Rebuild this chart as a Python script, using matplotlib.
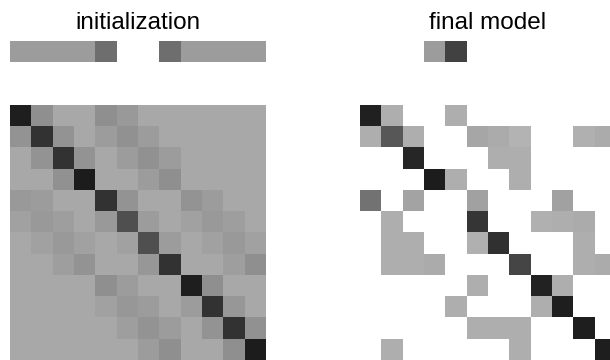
import numpy as np
import matplotlib
matplotlib.use('Agg')
import matplotlib.pyplot as plt

_ = np.nan  # no connection -> drawn white

panel_titles = ['initialization', 'final model']

# 1x12 vectors and 12x12 weight matrices (darker = larger weight)
init_vec = [0.39, 0.39, 0.39, 0.39, 0.57, _, _, 0.57, 0.39, 0.39, 0.39, 0.39]
final_vec = [_, _, _, 0.39, 0.74, _, _, _, _, _, _, _]

L = 0.34
init_mat = [
    [0.88, 0.44, L, L, 0.44, 0.40, L, L, L, L, L, L],
    [0.42, 0.80, 0.42, L, 0.39, 0.43, 0.39, L, L, L, L, L],
    [L, 0.42, 0.80, 0.42, L, 0.39, 0.43, 0.39, L, L, L, L],
    [L, L, 0.43, 0.89, L, L, 0.39, 0.44, L, L, L, L],
    [0.40, 0.39, L, L, 0.80, 0.42, L, L, 0.42, 0.39, L, L],
    [0.37, 0.40, 0.38, L, 0.40, 0.69, 0.39, L, 0.37, 0.40, 0.38, L],
    [L, 0.37, 0.40, 0.37, L, 0.37, 0.69, 0.39, L, 0.37, 0.40, 0.37],
    [L, L, 0.38, 0.42, L, L, 0.41, 0.80, L, L, 0.38, 0.44],
    [L, L, L, L, 0.44, 0.39, L, L, 0.88, 0.44, L, L],
    [L, L, L, L, 0.37, 0.41, 0.39, L, 0.39, 0.80, 0.41, L],
    [L, L, L, L, L, 0.38, 0.42, 0.39, L, 0.42, 0.80, 0.43],
    [L, L, L, L, L, L, 0.39, 0.44, L, L, 0.44, 0.89],
]

G = 0.32
final_mat = [
    [0.87, G, _, _, G, _, _, _, _, _, _, _],
    [G, 0.66, G, _, _, 0.35, 0.33, 0.30, _, _, 0.31, 0.33],
    [_, _, 0.85, _, _, _, G, G, _, _, _, _],
    [_, _, _, 0.89, G, _, _, G, _, _, _, _],
    [0.55, _, 0.36, _, _, 0.37, _, _, _, 0.37, _, _],
    [_, G, _, _, _, 0.79, _, _, 0.31, G, 0.33, _],
    [_, G, G, _, _, 0.31, 0.81, _, _, _, G, _],
    [_, G, G, 0.33, _, _, _, 0.73, _, _, G, 0.33],
    [_, _, _, _, _, G, _, _, 0.86, G, _, _],
    [_, _, _, _, G, _, _, _, G, 0.88, _, _],
    [_, _, _, _, _, G, G, G, _, _, 0.88, _],
    [_, G, _, _, _, _, _, G, _, _, _, 0.88],
]

W, H = 610, 360
fig = plt.figure(figsize=(W / 100, H / 100), dpi=100)
plt.rcParams['font.family'] = ['Liberation Sans', 'DejaVu Sans']

cmap = plt.get_cmap('gray_r').copy()
cmap.set_bad('white')

lefts = [10, 360]
size = 256
for left, title, vec, mat in zip(lefts, panel_titles,
                                 [init_vec, final_vec], [init_mat, final_mat]):
    ax_v = fig.add_axes([left / W, 1 - 62 / H, size / W, 21.3 / H])
    ax_v.imshow(np.ma.masked_invalid(np.array([vec], dtype=float)), cmap=cmap,
                vmin=0, vmax=1, aspect='auto', interpolation='nearest')
    ax_v.axis('off')

    ax_m = fig.add_axes([left / W, 0, size / W, 255 / H])
    ax_m.imshow(np.ma.masked_invalid(np.array(mat, dtype=float)), cmap=cmap,
                vmin=0, vmax=1, aspect='auto', interpolation='nearest')
    ax_m.axis('off')

    fig.text((left + size / 2) / W, 1 - 29 / H, title, ha='center',
             va='baseline', fontsize=17.5)

fig.savefig('out.png', dpi=100)
